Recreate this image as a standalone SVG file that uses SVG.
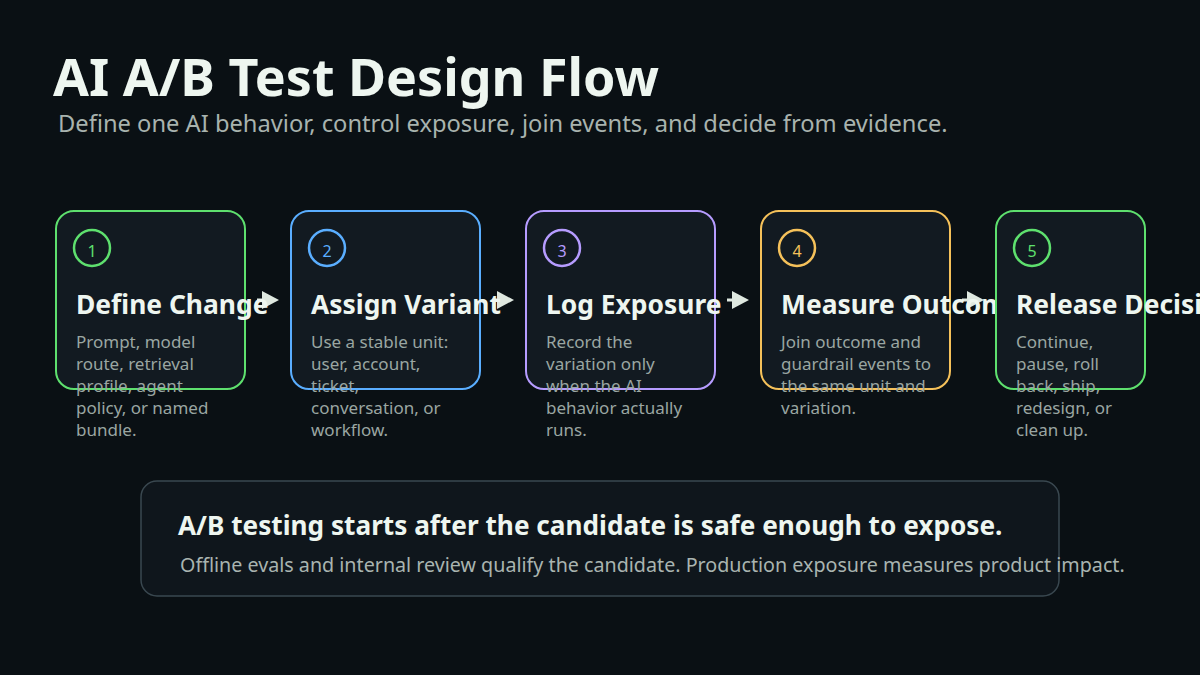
<svg xmlns="http://www.w3.org/2000/svg" width="1200" height="675" viewBox="0 0 1200 675">
<defs>
<marker id="arr" markerUnits="userSpaceOnUse" markerWidth="18" markerHeight="19" refX="1" refY="9" orient="auto">
<path d="M0,0 L17,9 L0,18 Z" fill="#dfe8e0"/>
</marker>
<style>
text{font-family:"Noto Sans","Open Sans","DejaVu Sans",sans-serif}
.title{font-size:52px;font-weight:700;fill:#eef6f0}
.sub{font-size:23.7px;fill:#a8b3ae}
.card{fill:#121a21;stroke-width:2}
.ring{fill:none;stroke-width:2.5}
.num{font-size:16px;text-anchor:middle}
.head{font-size:26.4px;font-weight:700;fill:#eef6f0}
.body{font-size:17px;fill:#9aa6a2}
.conn{stroke:#dfe8e0;stroke-width:3;fill:none}
.note{fill:#0f161c;stroke:#3a4850;stroke-width:1.5}
.nh{font-size:26.2px;font-weight:700;fill:#eef6f0}
.nb{font-size:19.7px;fill:#a9b4b0}
</style>
</defs>
<rect width="1200" height="675" fill="#0a1014"/>
<g id="header">
<text class="title" x="53" y="96">AI A/B Test Design Flow</text>
<text class="sub" x="58" y="132">Define one AI behavior, control exposure, join events, and decide from evidence.</text>
</g>
<g id="connectors">
<line class="conn" x1="257" y1="300" x2="263" y2="300" marker-end="url(#arr)"/>
<line class="conn" x1="492" y1="300" x2="498" y2="300" marker-end="url(#arr)"/>
<line class="conn" x1="727" y1="300" x2="733" y2="300" marker-end="url(#arr)"/>
<line class="conn" x1="962" y1="300" x2="968" y2="300" marker-end="url(#arr)"/>
</g>
<g id="step1">
<rect class="card" x="56" y="211" width="189" height="178" rx="18" stroke="#5ee06e"/>
<circle class="ring" cx="92" cy="248" r="18" stroke="#5ee06e"/>
<text class="num" x="92" y="257" fill="#5ee06e">1</text>
<text class="head" x="76" y="314">Define Change</text>
<text class="body" x="76" y="348">Prompt, model</text>
<text class="body" x="76" y="370">route, retrieval</text>
<text class="body" x="76" y="392">profile, agent</text>
<text class="body" x="76" y="414">policy, or named</text>
<text class="body" x="76" y="436">bundle.</text>
</g>
<g id="step2">
<rect class="card" x="291" y="211" width="189" height="178" rx="18" stroke="#5aaeff"/>
<circle class="ring" cx="327" cy="248" r="18" stroke="#5aaeff"/>
<text class="num" x="327" y="257" fill="#5aaeff">2</text>
<text class="head" x="311" y="314">Assign Variant</text>
<text class="body" x="311" y="348">Use a stable unit:</text>
<text class="body" x="311" y="370">user, account,</text>
<text class="body" x="311" y="392">ticket,</text>
<text class="body" x="311" y="414">conversation, or</text>
<text class="body" x="311" y="436">workflow.</text>
</g>
<g id="step3">
<rect class="card" x="526" y="211" width="189" height="178" rx="18" stroke="#b69cff"/>
<circle class="ring" cx="562" cy="248" r="18" stroke="#b69cff"/>
<text class="num" x="562" y="257" fill="#b69cff">3</text>
<text class="head" x="546" y="314">Log Exposure</text>
<text class="body" x="546" y="348">Record the</text>
<text class="body" x="546" y="370">variation only</text>
<text class="body" x="546" y="392">when the AI</text>
<text class="body" x="546" y="414">behavior actually</text>
<text class="body" x="546" y="436">runs.</text>
</g>
<g id="step4">
<rect class="card" x="761" y="211" width="189" height="178" rx="18" stroke="#f5c15a"/>
<circle class="ring" cx="797" cy="248" r="18" stroke="#f5c15a"/>
<text class="num" x="797" y="257" fill="#f5c15a">4</text>
<text class="head" x="781" y="314">Measure Outcome</text>
<text class="body" x="781" y="348">Join outcome and</text>
<text class="body" x="781" y="370">guardrail events to</text>
<text class="body" x="781" y="392">the same unit and</text>
<text class="body" x="781" y="414">variation.</text>
</g>
<g id="step5">
<rect class="card" x="996" y="211" width="149" height="178" rx="18" stroke="#5ee06e"/>
<circle class="ring" cx="1032" cy="248" r="18" stroke="#5ee06e"/>
<text class="num" x="1032" y="257" fill="#5ee06e">5</text>
<text class="head" x="1016" y="314">Release Decision</text>
<text class="body" x="1016" y="348">Continue,</text>
<text class="body" x="1016" y="370">pause, roll</text>
<text class="body" x="1016" y="392">back, ship,</text>
<text class="body" x="1016" y="414">redesign, or</text>
<text class="body" x="1016" y="436">clean up.</text>
</g>
<g id="note">
<rect class="note" x="141" y="481" width="918" height="115" rx="16"/>
<text class="nh" x="178" y="535">A/B testing starts after the candidate is safe enough to expose.</text>
<text class="nb" x="180" y="572">Offline evals and internal review qualify the candidate. Production exposure measures product impact.</text>
</g>
</svg>
